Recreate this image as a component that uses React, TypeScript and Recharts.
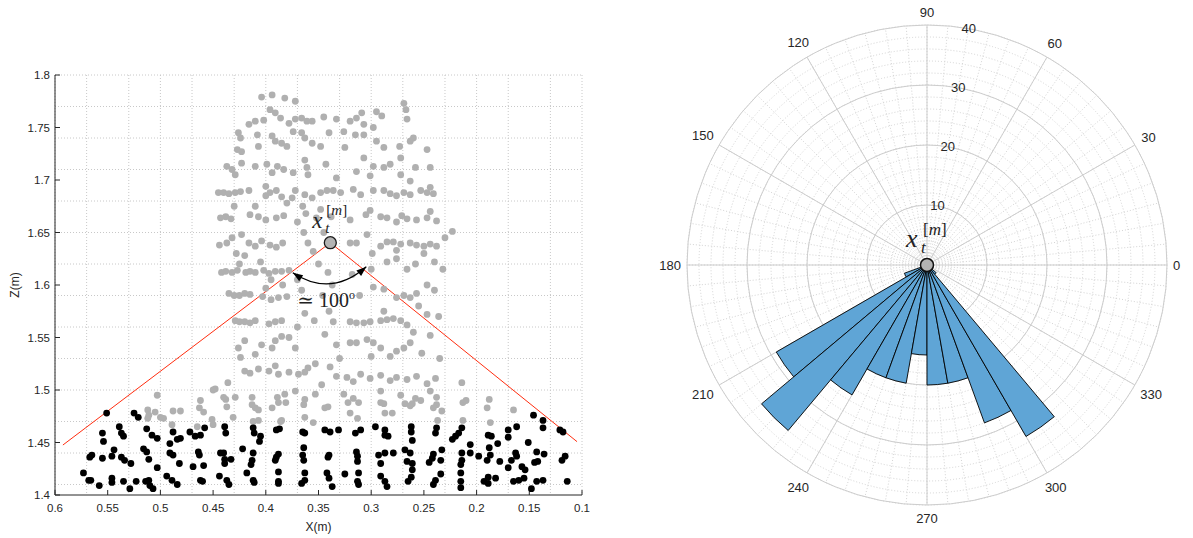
import React from 'react';
import {
  ScatterChart, Scatter, XAxis, YAxis, CartesianGrid, ReferenceLine, ReferenceDot,
  RadialBarChart, RadialBar, PolarAngleAxis, PolarRadiusAxis, PolarGrid,
} from 'recharts';

// ---------- Left panel data ----------
const xTicks = [0.1, 0.15, 0.2, 0.25, 0.3, 0.35, 0.4, 0.45, 0.5, 0.55, 0.6];
const zTicks = [1.4, 1.45, 1.5, 1.55, 1.6, 1.65, 1.7, 1.75, 1.8];
const xMinor = Array.from({ length: 51 }, (_, i) => +(0.1 + i * 0.01).toFixed(2));
const zMinor = Array.from({ length: 41 }, (_, i) => +(1.4 + i * 0.01).toFixed(2));

const apexPoint = { x: 0.3388, z: 1.6403 };
const leftLineEnd = { x: 0.5925, z: 1.4476 };
const rightLineEnd = { x: 0.1047, z: 1.4508 };

const grayPts: [number, number][] = [
  [0.404,1.779],[0.394,1.781],[0.382,1.778],[0.372,1.775],
  [0.396,1.767],[0.391,1.764],[0.410,1.756],[0.416,1.753],[0.378,1.754],[0.372,1.758],[0.366,1.759],[0.361,1.756],[0.356,1.756],[0.386,1.759],[0.402,1.757],
  [0.426,1.745],[0.424,1.740],[0.408,1.743],[0.407,1.732],[0.394,1.742],[0.391,1.737],[0.385,1.735],[0.380,1.732],[0.374,1.746],[0.366,1.745],[0.363,1.740],[0.356,1.735],[0.348,1.732],[0.427,1.729],[0.423,1.727],
  [0.437,1.713],[0.432,1.710],[0.423,1.716],[0.410,1.713],[0.399,1.715],[0.389,1.713],[0.383,1.710],[0.374,1.707],[0.363,1.719],[0.361,1.712],[0.360,1.705],[0.429,1.705],[0.394,1.707],
  [0.445,1.688],[0.440,1.688],[0.435,1.687],[0.429,1.688],[0.424,1.689],[0.416,1.690],[0.400,1.694],[0.396,1.688],[0.390,1.690],[0.385,1.684],[0.372,1.690],[0.363,1.686],[0.356,1.683],[0.348,1.688],[0.342,1.690],[0.400,1.685],[0.375,1.683],
  [0.443,1.664],[0.438,1.665],[0.433,1.663],[0.415,1.667],[0.407,1.665],[0.400,1.662],[0.390,1.664],[0.383,1.666],[0.370,1.660],[0.362,1.668],[0.352,1.664],[0.430,1.675],[0.410,1.675],[0.380,1.678],[0.365,1.675],[0.348,1.672],
  [0.444,1.638],[0.437,1.640],[0.432,1.645],[0.423,1.648],[0.416,1.640],[0.410,1.637],[0.404,1.642],[0.396,1.638],[0.390,1.636],[0.384,1.640],[0.364,1.650],[0.360,1.640],[0.355,1.632],[0.420,1.628],[0.428,1.630],
  [0.442,1.612],[0.438,1.613],[0.432,1.612],[0.427,1.614],[0.419,1.612],[0.415,1.613],[0.410,1.612],[0.402,1.614],[0.397,1.611],[0.391,1.613],[0.385,1.613],[0.378,1.614],[0.425,1.620],[0.405,1.622],[0.395,1.605],[0.370,1.605],
  [0.435,1.592],[0.430,1.590],[0.425,1.590],[0.420,1.592],[0.415,1.591],[0.403,1.589],[0.395,1.586],[0.388,1.588],[0.380,1.589],[0.400,1.597],[0.384,1.600],[0.366,1.595],
  [0.429,1.566],[0.425,1.565],[0.420,1.565],[0.415,1.564],[0.410,1.566],[0.397,1.563],[0.391,1.565],[0.385,1.566],[0.363,1.573],[0.354,1.566],[0.370,1.560],
  [0.426,1.540],[0.420,1.547],[0.404,1.543],[0.394,1.540],[0.391,1.547],[0.385,1.551],[0.378,1.550],[0.372,1.540],[0.424,1.531],[0.410,1.534],
  [0.420,1.518],[0.415,1.516],[0.407,1.520],[0.397,1.518],[0.391,1.523],[0.388,1.515],[0.378,1.517],[0.369,1.515],[0.363,1.517],[0.360,1.521],[0.353,1.525],
  [0.448,1.501],[0.438,1.491],[0.429,1.493],[0.413,1.493],[0.410,1.483],[0.394,1.483],[0.389,1.493],[0.382,1.496],[0.372,1.499],[0.363,1.491],[0.353,1.496],[0.344,1.483],[0.451,1.472],[0.431,1.474],[0.407,1.471],[0.385,1.471],[0.363,1.474],
  [0.345,1.760],[0.340,1.745],[0.343,1.715],[0.338,1.665],[0.345,1.650],[0.341,1.612],[0.346,1.590],[0.340,1.575],[0.344,1.553],[0.339,1.522],[0.347,1.505],[0.336,1.565],[0.350,1.620],[0.337,1.600],
  [0.269,1.773],[0.267,1.767],[0.266,1.758],
  [0.295,1.765],[0.290,1.761],[0.309,1.764],[0.314,1.759],[0.320,1.756],[0.333,1.758],[0.307,1.753],[0.298,1.750],[0.326,1.746],[0.315,1.743],[0.307,1.743],[0.295,1.737],[0.288,1.731],[0.273,1.732],[0.263,1.737],[0.260,1.740],[0.325,1.731],[0.307,1.721],[0.298,1.713],[0.288,1.712],[0.282,1.715],[0.272,1.721],[0.258,1.712],[0.247,1.729],[0.244,1.712],[0.333,1.702],[0.314,1.708],[0.301,1.704],[0.272,1.705],[0.263,1.699],[0.244,1.693],
  [0.336,1.690],[0.329,1.688],[0.317,1.691],[0.310,1.686],[0.298,1.690],[0.288,1.690],[0.282,1.687],[0.276,1.685],[0.269,1.688],[0.263,1.686],[0.253,1.690],[0.247,1.688],[0.241,1.687],
  [0.301,1.671],[0.291,1.665],[0.285,1.664],[0.276,1.660],[0.271,1.666],[0.266,1.663],[0.257,1.662],[0.247,1.664],[0.244,1.670],[0.238,1.661],[0.320,1.662],[0.305,1.667],[0.223,1.651],
  [0.320,1.640],[0.314,1.640],[0.304,1.648],[0.291,1.637],[0.285,1.641],[0.279,1.641],[0.276,1.633],[0.272,1.639],[0.263,1.640],[0.257,1.638],[0.250,1.637],[0.244,1.639],[0.238,1.637],[0.230,1.645],
  [0.299,1.630],[0.285,1.622],[0.276,1.625],[0.266,1.615],[0.258,1.620],[0.250,1.630],[0.240,1.622],[0.300,1.615],[0.318,1.610],[0.232,1.615],
  [0.298,1.598],[0.288,1.596],[0.276,1.588],[0.269,1.590],[0.263,1.588],[0.257,1.592],[0.247,1.600],[0.311,1.590],[0.240,1.595],[0.255,1.580],
  [0.320,1.565],[0.314,1.564],[0.307,1.564],[0.301,1.565],[0.291,1.566],[0.285,1.567],[0.279,1.568],[0.272,1.566],[0.266,1.562],[0.260,1.555],[0.288,1.575],[0.247,1.572],[0.236,1.570],
  [0.333,1.543],[0.320,1.545],[0.314,1.545],[0.304,1.548],[0.298,1.545],[0.291,1.540],[0.282,1.532],[0.276,1.537],[0.269,1.540],[0.263,1.545],[0.330,1.530],[0.300,1.532],[0.252,1.535],[0.244,1.552],[0.235,1.530],
  [0.333,1.513],[0.323,1.512],[0.317,1.508],[0.310,1.515],[0.301,1.511],[0.291,1.514],[0.282,1.509],[0.276,1.512],[0.266,1.510],[0.257,1.513],[0.247,1.506],
  [0.326,1.496],[0.317,1.492],[0.291,1.499],[0.288,1.487],[0.272,1.495],[0.263,1.485],[0.253,1.490],[0.244,1.499],[0.238,1.486],[0.320,1.478],[0.280,1.478],
  [0.512,1.481],[0.505,1.479],[0.497,1.473],[0.503,1.495],[0.488,1.480],[0.481,1.480],[0.462,1.490],[0.463,1.483],[0.450,1.500],[0.465,1.465],[0.450,1.467],[0.489,1.467],[0.512,1.473],[0.440,1.493],[0.436,1.507],[0.437,1.484],
  [0.511,1.476],[0.500,1.474],[0.459,1.479],[0.413,1.486],[0.412,1.470],[0.407,1.481],[0.388,1.488],[0.386,1.470],[0.381,1.488],[0.364,1.486],[0.355,1.469],
  [0.341,1.484],[0.322,1.488],[0.312,1.488],[0.313,1.473],[0.291,1.488],[0.287,1.478],[0.268,1.487],[0.261,1.487],[0.241,1.483],[0.237,1.471],[0.233,1.480],[0.213,1.488],[0.213,1.471],[0.190,1.483],[0.187,1.469],[0.165,1.481],
  [0.239,1.511],[0.214,1.507],[0.210,1.490],[0.188,1.491],[0.238,1.493],[0.258,1.492],
];

const blackPts: [number, number][] = [
  [0.551,1.478],[0.525,1.478],[0.521,1.474],[0.555,1.459],[0.554,1.451],[0.539,1.465],[0.537,1.459],[0.535,1.456],[0.513,1.463],[0.508,1.457],[0.503,1.454],[0.491,1.449],[0.484,1.453],[0.481,1.454],[0.488,1.460],[0.472,1.460],[0.467,1.456],[0.462,1.457],[0.458,1.464],[0.439,1.465],[0.438,1.459],[0.412,1.464],[0.411,1.459],[0.405,1.456],[0.406,1.451],[0.390,1.462],[0.387,1.463],[0.365,1.460],[0.363,1.459],
  [0.565,1.438],[0.567,1.436],[0.555,1.435],[0.544,1.443],[0.546,1.437],[0.537,1.436],[0.534,1.433],[0.528,1.430],[0.516,1.444],[0.513,1.441],[0.511,1.434],[0.503,1.426],[0.491,1.440],[0.488,1.438],[0.482,1.430],[0.464,1.441],[0.463,1.438],[0.469,1.427],[0.459,1.428],[0.443,1.440],[0.440,1.440],[0.439,1.434],[0.433,1.434],[0.439,1.430],[0.422,1.444],[0.412,1.440],[0.413,1.433],[0.414,1.429],[0.388,1.439],[0.390,1.436],[0.391,1.433],[0.364,1.445],[0.365,1.438],[0.364,1.433],
  [0.573,1.421],[0.568,1.414],[0.566,1.414],[0.558,1.409],[0.546,1.416],[0.546,1.412],[0.535,1.413],[0.529,1.406],[0.523,1.413],[0.514,1.413],[0.511,1.414],[0.510,1.409],[0.507,1.406],[0.494,1.418],[0.489,1.414],[0.484,1.410],[0.462,1.414],[0.460,1.413],[0.444,1.418],[0.437,1.414],[0.435,1.410],[0.418,1.421],[0.412,1.414],[0.411,1.412],[0.388,1.422],[0.388,1.413],[0.388,1.411],[0.363,1.421],[0.363,1.414],[0.366,1.411],
  [0.344,1.462],[0.339,1.460],[0.331,1.462],[0.315,1.459],[0.310,1.462],[0.296,1.465],[0.287,1.462],[0.287,1.457],[0.284,1.456],[0.262,1.465],[0.262,1.460],[0.261,1.452],[0.238,1.464],[0.239,1.459],[0.223,1.453],[0.220,1.456],[0.217,1.459],[0.214,1.464],[0.206,1.448],[0.189,1.457],[0.186,1.456],[0.180,1.449],[0.170,1.462],[0.170,1.455],[0.162,1.465],[0.146,1.476],[0.137,1.471],[0.137,1.464],[0.151,1.450],[0.121,1.462],[0.118,1.460],
  [0.340,1.438],[0.341,1.436],[0.314,1.441],[0.313,1.437],[0.313,1.432],[0.293,1.438],[0.287,1.440],[0.279,1.440],[0.291,1.430],[0.268,1.443],[0.263,1.440],[0.266,1.432],[0.261,1.430],[0.241,1.439],[0.242,1.435],[0.234,1.433],[0.245,1.431],[0.233,1.443],[0.214,1.440],[0.214,1.433],[0.215,1.429],[0.206,1.440],[0.198,1.437],[0.190,1.433],[0.187,1.438],[0.188,1.445],[0.178,1.432],[0.167,1.433],[0.163,1.440],[0.162,1.437],[0.170,1.426],[0.143,1.441],[0.142,1.432],[0.136,1.439],[0.145,1.431],[0.119,1.433],[0.116,1.437],
  [0.342,1.421],[0.340,1.416],[0.337,1.408],[0.325,1.420],[0.312,1.421],[0.313,1.413],[0.312,1.410],[0.291,1.418],[0.287,1.413],[0.285,1.408],[0.261,1.424],[0.262,1.417],[0.265,1.413],[0.239,1.414],[0.234,1.420],[0.241,1.410],[0.215,1.421],[0.215,1.413],[0.215,1.407],[0.193,1.413],[0.189,1.417],[0.182,1.416],[0.189,1.411],[0.165,1.413],[0.160,1.414],[0.155,1.416],[0.154,1.424],[0.157,1.427],[0.148,1.406],[0.143,1.413],[0.137,1.414],[0.114,1.413],
];

// ---------- Right panel data ----------
const binStarts = [0,10,20,30,40,50,60,70,80,90,100,110,120,130,140,150,160,170,180,190,200,210,220,230,240,250,260,270,280,290,300,310,320,330,340,350];
const binCounts = [0,0,0,0,0,0,0,0,0,0,0,0,0,0,0,0,0,0,0,0,0,4,29,36,25,20,20,15,20,20,28,33,2,0,0,0];
const angleMajorTicks = [0,30,60,90,120,150,180,210,240,270,300,330];
const angleMinorTicks = Array.from({ length: 72 }, (_, i) => i * 5);
const rhoMax = 40;
const rhoMajorTicks = [10, 20, 30, 40];
const rhoMinorTicks = Array.from({ length: 20 }, (_, i) => (i + 1) * 2);

const POLAR_R = 240;
const grayData = grayPts.map(([x, z]) => ({ x, z }));
const blackData = blackPts.map(([x, z]) => ({ x, z }));
const polarData = binStarts.map((b, i) => ({ bin: String(b), count: binCounts[i] }));

const FONT = "'Liberation Sans', Arial, sans-serif";
const SERIF = "'Liberation Serif', 'DejaVu Serif', serif";
const fmt = (v: number) => String(+Number(v).toFixed(2));

const dot = (fill: string) => (p: any) => <circle cx={p.cx} cy={p.cy} r={3.4} fill={fill} />;

const arrowHead = (tip: { x: number; y: number }, from: { x: number; y: number }) => {
  const dx = tip.x - from.x, dy = tip.y - from.y;
  const len = Math.hypot(dx, dy);
  const ux = dx / len, uy = dy / len;
  const bx = tip.x - ux * 10, by = tip.y - uy * 10;
  const px = -uy * 3.6, py = ux * 3.6;
  return `${tip.x},${tip.y} ${bx + px},${by + py} ${bx - px},${by - py}`;
};

const ApexMark = (p: any) => {
  const { cx, cy } = p;
  const L = { x: cx - 37.5, y: cy + 30 };
  const R = { x: cx + 36, y: cy + 24 };
  const C = { x: cx + 0.5, y: cy + 55 };
  return (
    <g>
      <path d={`M${L.x},${L.y} Q${C.x},${C.y} ${R.x},${R.y}`} fill="none" stroke="#000" strokeWidth={1.2} />
      <polygon points={arrowHead(L, C)} fill="#000" />
      <polygon points={arrowHead(R, C)} fill="#000" />
      <text x={cx - 33} y={cy + 64} fontFamily={SERIF} fontSize={20} fill="#222">
        ≃ 100<tspan dy={-8} fontSize={12}>o</tspan>
      </text>
      <text x={cx - 18} y={cy - 15} fontFamily={SERIF} fontStyle="italic" fontSize={23} fill="#222">x</text>
      <text x={cx - 5} y={cy - 10} fontFamily={SERIF} fontStyle="italic" fontSize={15} fill="#222">t</text>
      <text x={cx - 4} y={cy - 28} fontFamily={SERIF} fontSize={15} fill="#222">[<tspan fontStyle="italic">m</tspan>]</text>
      <circle cx={cx} cy={cy} r={6} fill="#b3b3b3" stroke="#1a1a1a" strokeWidth={1.3} />
    </g>
  );
};

// Center marker, label and the angular tick labels, placed from the radius axis' polar viewBox.
const PolarDecor = (props: any) => {
  const vb = props.viewBox || {};
  const cx = vb.cx, cy = vb.cy;
  if (cx == null) return null;
  const outer = vb.outerRadius || POLAR_R;
  return (
    <g>
      {angleMajorTicks.map((a) => {
        const rad = (a * Math.PI) / 180;
        const c = Math.cos(rad), s = Math.sin(rad);
        const halfW = (String(a).length * 7.23) / 2;
        const halfH = 7;
        const r = outer + 6 + Math.abs(c) * halfW + Math.abs(s) * halfH;
        return (
          <text key={a} x={cx + r * c} y={cy - r * s} textAnchor="middle" dominantBaseline="central"
            fontFamily={FONT} fontSize={13} fill="#262626">{a}</text>
        );
      })}
      <text x={cx - 21} y={cy - 18} fontFamily={SERIF} fontStyle="italic" fontSize={26} fill="#222">x</text>
      <text x={cx - 6} y={cy - 12} fontFamily={SERIF} fontStyle="italic" fontSize={17} fill="#222">t</text>
      <text x={cx - 4} y={cy - 30} fontFamily={SERIF} fontSize={17} fill="#222">[<tspan fontStyle="italic">m</tspan>]</text>
      <circle cx={cx} cy={cy} r={6.5} fill="#b3b3b3" stroke="#111" strokeWidth={1.5} />
    </g>
  );
};

const RadiusTick = (p: any) => (
  <text x={p.x} y={p.y} textAnchor="middle" dominantBaseline="central" fontFamily={FONT} fontSize={13} fill="#262626">
    {p.payload.value}
  </text>
);

export default function App() {
  return (
    <div style={{ position: 'absolute', left: 0, top: 0, width: 1193, height: 538, background: '#fff', fontFamily: FONT }}>
      <div style={{ position: 'absolute', left: 0, top: 0 }}>
        <ScatterChart width={600} height={538} margin={{ top: 75, right: 18, bottom: 3, left: 0 }}>
          <CartesianGrid stroke="#c8c8c8" strokeDasharray="1 2" horizontalValues={zMinor} verticalValues={xMinor} />
          <XAxis
            type="number" dataKey="x" domain={[0.1, 0.6]} reversed ticks={xTicks} tickFormatter={fmt}
            height={40} allowDataOverflow tickSize={-5} tickMargin={14}
            stroke="#262626" tick={{ fill: '#262626', fontSize: 11.5, fontFamily: FONT }}
            label={{ value: 'X(m)', position: 'insideBottom', offset: 4, fill: '#262626', fontSize: 12, fontFamily: FONT }}
          />
          <YAxis
            type="number" dataKey="z" domain={[1.4, 1.8]} ticks={zTicks} tickFormatter={fmt}
            width={55} allowDataOverflow tickSize={-5} tickMargin={10}
            stroke="#262626" tick={{ fill: '#262626', fontSize: 11.5, fontFamily: FONT }}
            label={{ value: 'Z(m)', angle: -90, position: 'insideLeft', offset: 15, fill: '#262626', fontSize: 12, fontFamily: FONT, style: { textAnchor: 'middle' } }}
          />
          <Scatter data={grayData} fill="#b0b0b0" shape={dot('#b0b0b0')} isAnimationActive={false} />
          <ReferenceLine segment={[{ x: leftLineEnd.x, y: leftLineEnd.z }, { x: apexPoint.x, y: apexPoint.z }]} stroke="#ff2d0f" strokeWidth={1} />
          <ReferenceLine segment={[{ x: apexPoint.x, y: apexPoint.z }, { x: rightLineEnd.x, y: rightLineEnd.z }]} stroke="#ff2d0f" strokeWidth={1} />
          <Scatter data={blackData} fill="#000" shape={dot('#000')} isAnimationActive={false} />
          <ReferenceDot x={apexPoint.x} y={apexPoint.z} shape={ApexMark} />
        </ScatterChart>
      </div>
      <div style={{ position: 'absolute', left: 600, top: 0 }}>
        <RadialBarChart
          width={593} height={538} data={polarData} layout="centric"
          cx={327} cy={265} innerRadius={0} outerRadius={POLAR_R}
          startAngle={0} endAngle={360} barCategoryGap={0} barGap={0}
        >
          <PolarGrid
            gridType="circle" stroke="#d4d4d4" strokeDasharray="1 2"
            polarAngles={angleMinorTicks}
            polarRadius={rhoMinorTicks.map((v) => (v / rhoMax) * POLAR_R)}
          />
          <PolarGrid
            gridType="circle" stroke="#cdcdcd"
            polarAngles={angleMajorTicks}
            polarRadius={rhoMajorTicks.map((v) => (v / rhoMax) * POLAR_R)}
          />
          <PolarAngleAxis dataKey="bin" type="category" tick={false} tickLine={false} axisLine={false} />
          <RadialBar dataKey="count" fill="#5fa5d6" stroke="#000" strokeWidth={0.9} isAnimationActive={false} />
          <PolarRadiusAxis
            type="number" domain={[0, rhoMax]} ticks={rhoMajorTicks} angle={80}
            tick={RadiusTick} tickLine={false} axisLine={false} label={{ content: PolarDecor } as any}
          />
        </RadialBarChart>
      </div>
    </div>
  );
}
